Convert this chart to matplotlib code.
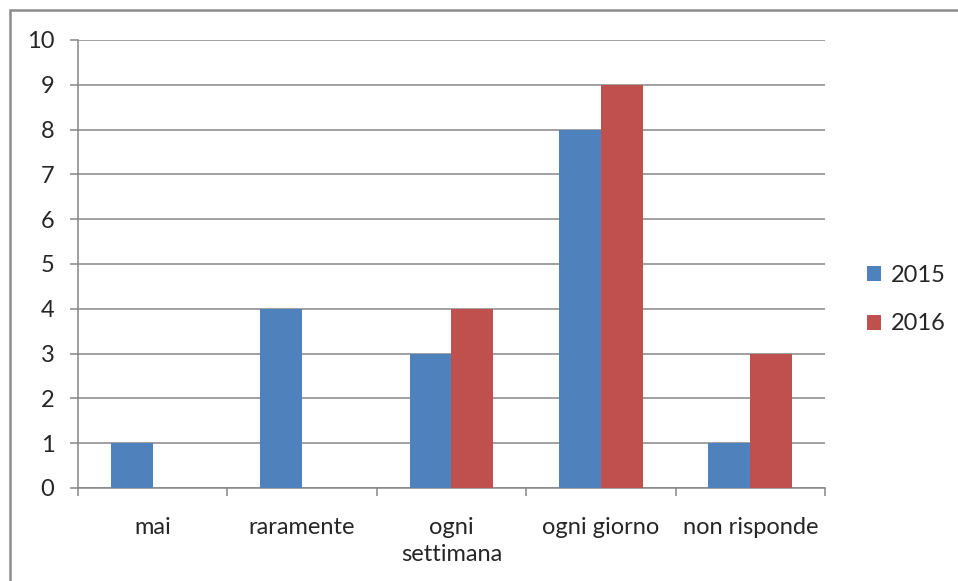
import matplotlib
matplotlib.use("Agg")
import matplotlib.pyplot as plt
import numpy as np
from matplotlib.patches import Rectangle

# dati del grafico
categorie = ["mai", "raramente", "ogni\nsettimana", "ogni giorno", "non risponde"]
valori_2015 = [1, 4, 3, 8, 1]
valori_2016 = [0, 0, 4, 9, 3]
serie = ["2015", "2016"]

blu = "#4F81BD"
rosso = "#C0504D"
grigio = "#868686"

plt.rcParams['font.family'] = ['Lato', 'DejaVu Sans']
fs = 17

fig = plt.figure(figsize=(9.58, 5.81), dpi=100)
ax = fig.add_axes([78 / 958, 1 - 488 / 581, (825 - 78) / 958, (488 - 40) / 581])

x = np.arange(len(categorie))
w = 0.281
ax.bar(x - w / 2, valori_2015, w, color=blu, label=serie[0], zorder=3)
ax.bar(x + w / 2, valori_2016, w, color=rosso, label=serie[1], zorder=3)

ax.set_xlim(-0.5, len(categorie) - 0.5)
ax.set_ylim(0, 10)
ax.set_yticks(range(0, 11))
ax.grid(axis='y', color=grigio, linewidth=1.1, zorder=0)

# tacche tra le categorie
ax.set_xticks(x)
ax.set_xticklabels(categorie, fontsize=fs, color="#262626", linespacing=1.35)
ax.set_xticks(np.arange(-0.5, len(categorie)), minor=True)
ax.tick_params(axis='x', which='major', length=0, pad=21)
ax.tick_params(axis='x', which='minor', length=6, width=1.1, color=grigio, direction='out')
ax.tick_params(axis='y', length=6, width=1.1, color=grigio, labelsize=fs,
               labelcolor="#262626", pad=11)

for s in ['top', 'right']:
    ax.spines[s].set_visible(False)
for s in ['left', 'bottom']:
    ax.spines[s].set_color(grigio)
    ax.spines[s].set_linewidth(1.1)

leg = ax.legend(loc='center left', bbox_to_anchor=(1.028, 0.42), frameon=False,
                fontsize=fs, handlelength=0.6, handleheight=0.6,
                labelspacing=1.15, handletextpad=0.4)
for t in leg.get_texts():
    t.set_color("#262626")

# bordo esterno del grafico
fig.patches.append(Rectangle((9.5 / 958, -0.1), 1.2, 1 - 10 / 581 + 0.1,
                             transform=fig.transFigure, fill=False,
                             edgecolor="#8c8c8c", linewidth=1.8))

fig.savefig("out.png", dpi=100)
